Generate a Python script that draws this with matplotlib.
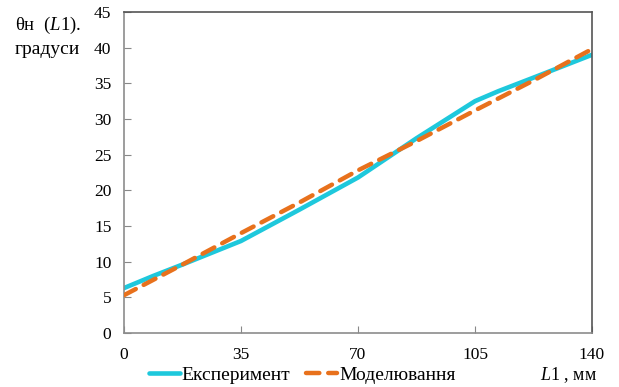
import numpy as np
import matplotlib
matplotlib.use("Agg")
from matplotlib import pyplot as plt

# data
x_exp = [0, 8.75, 17.5, 35, 52.5, 70, 87.5, 105, 112, 122.5, 140]
y_exp = [6.3, 8.0, 9.6, 12.9, 17.3, 21.8, 27.3, 32.5, 33.9, 35.8, 39.0]
x_mod = [0, 17.5, 35, 52.5, 70, 87.5, 105, 122.5, 140]
y_mod = [5.3, 9.6, 14.0, 18.3, 22.8, 26.9, 31.2, 35.4, 39.8]
x_ticks = [0, 35, 70, 105, 140]
y_ticks = list(range(0, 50, 5))

plt.rcParams["font.family"] = ["Liberation Serif", "DejaVu Serif"]
plt.rcParams["mathtext.fontset"] = "custom"
plt.rcParams["mathtext.it"] = "Liberation Serif:italic"
plt.rcParams["mathtext.rm"] = "Liberation Serif"

fig = plt.figure(figsize=(6.19, 3.87), dpi=100)
ax = fig.add_axes([0.2003, 0.1395, 0.7561, 0.8295])

cyan = "#1ec8dc"
orange = "#e8711c"
ax.plot(x_exp, y_exp, color=cyan, lw=3.3, solid_capstyle="round",
        label="Експеримент", zorder=2)
ax.plot(x_mod, y_mod, color=orange, lw=3.2, dashes=(3.0, 2.0),
        dash_capstyle="round", label="Моделювання", zorder=3)

ax.set_xlim(0, 140)
ax.set_ylim(0, 45)
ax.set_xticks(x_ticks)
ax.set_yticks(y_ticks)
ax.tick_params(direction="in", length=5, width=0.8, color="#888888",
               labelsize=12.5, pad=9)
ax.tick_params(axis="x", pad=10)
for side in ["left", "bottom"]:
    ax.spines[side].set_color("#8c8c8c")
for side in ["top", "right"]:
    ax.spines[side].set_color("#555555")
for s in ax.spines.values():
    s.set_linewidth(1.2)

fig.text(0.024, 0.933, r"θн  ($\mathit{L}$1).", fontsize=13.5, ha="left", va="center")
fig.text(0.024, 0.873, "градуси", fontsize=14, ha="left", va="center")
fig.text(0.872, 0.03, r"$\mathit{L}$1 , мм", fontsize=13, ha="left", va="center")

fig.legend(loc="center", bbox_to_anchor=(0.488, 0.03), ncol=2, frameon=False,
           fontsize=14, handlelength=1.6, handletextpad=0.1, columnspacing=0.8)

fig.savefig("out.png", dpi=100)
